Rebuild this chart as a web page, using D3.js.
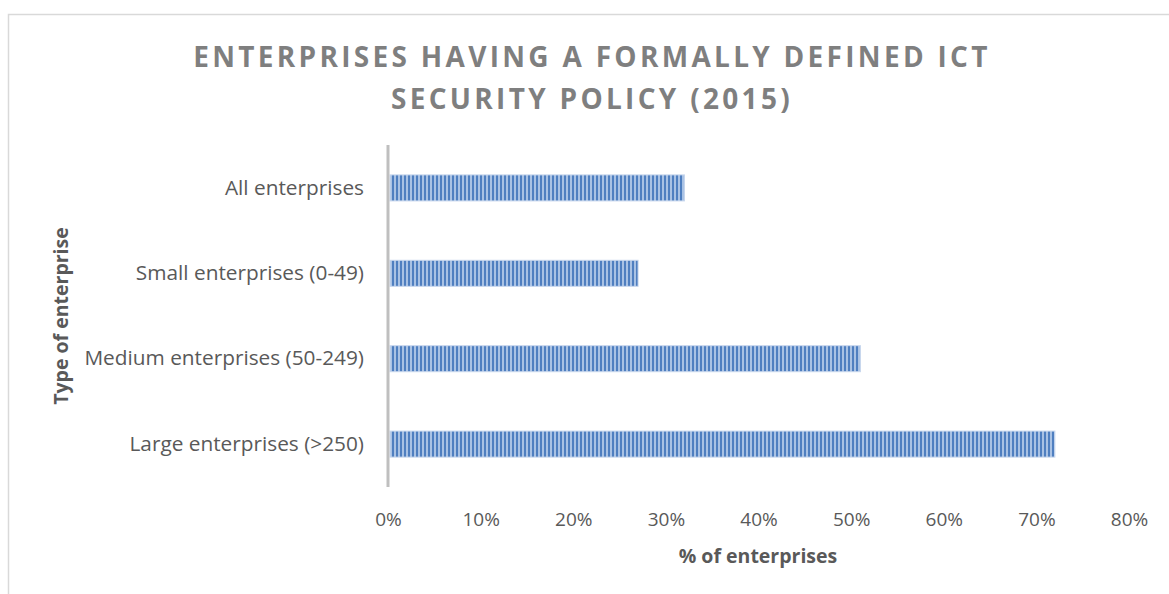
<!DOCTYPE html>
<html><head><meta charset="utf-8">
<script src="https://cdn.jsdelivr.net/npm/d3@7/dist/d3.min.js"></script>
<style>
html,body{margin:0;padding:0;background:#fff;}
svg{display:block;font-family:"Open Sans","Liberation Sans",sans-serif;}
</style></head>
<body><svg id="chart" width="1169" height="594"></svg>
<script>
const categories = ["All enterprises","Small enterprises (0-49)","Medium enterprises (50-249)","Large enterprises (>250)"];
const values = [0.32,0.27,0.51,0.72];
const xTicks = [0,0.1,0.2,0.3,0.4,0.5,0.6,0.7,0.8];
const titleLines = ["ENTERPRISES HAVING A FORMALLY DEFINED ICT","SECURITY POLICY (2015)"];
const xTitle = "% of enterprises";
const yTitle = "Type of enterprise";

const svg = d3.select("#chart");
const W = 1169, H = 594;
const m = {left:388, right:40, top:145, bottom:107};

// border
svg.append("rect").attr("x",8.5).attr("y",14.5).attr("width",W).attr("height",H)
  .attr("fill","#fff").attr("stroke","#d9d9d9").attr("stroke-width",1.5);

const defs = svg.append("defs");
const pat = defs.append("pattern").attr("id","stripes").attr("patternUnits","userSpaceOnUse")
  .attr("width",4).attr("height",10);
pat.append("rect").attr("width",4).attr("height",10).attr("fill","#a9c2e4");
pat.append("rect").attr("width",2).attr("height",10).attr("fill","#4f7fc0");

const x = d3.scaleLinear().domain([0,0.8]).range([m.left, 1129]);
const y = d3.scaleBand().domain(categories).range([m.top, H-m.bottom]).paddingInner(0.695).paddingOuter(0.35);

// title
const t = svg.append("text").attr("text-anchor","middle").attr("fill","#7f7f7f")
  .attr("font-weight","bold").attr("font-size",28).style("letter-spacing","3.3px");
titleLines.forEach((s,i)=>t.append("tspan").attr("x",592).attr("y",67+i*42).text(s));

// bars
svg.append("g").selectAll("rect").data(categories).join("rect")
  .attr("x",x(0)+2).attr("y",d=>y(d))
  .attr("width",(d,i)=>x(values[i])-x(0)-2).attr("height",y.bandwidth())
  .attr("fill","url(#stripes)").attr("stroke","#c9d8ee").attr("stroke-width",1);

// x axis (labels only)
const xa = svg.append("g").attr("transform",`translate(0,${H-m.bottom})`)
  .call(d3.axisBottom(x).tickValues(xTicks).tickFormat(d3.format(".0%")).tickSize(0).tickPadding(26));
xa.select(".domain").remove();
xa.selectAll("text").attr("font-size",19).attr("fill","#595959").attr("font-family","'Open Sans',sans-serif");

// y axis
const ya = svg.append("g").attr("transform",`translate(${m.left},0)`)
  .call(d3.axisLeft(y).tickSize(0).tickPadding(24));
ya.select(".domain").attr("stroke","#bfbfbf").attr("stroke-width",3)
  .attr("d",`M0,${m.top}V${H-m.bottom}`);
ya.selectAll("text").attr("font-size",20.8).attr("fill","#595959").attr("font-family","'Open Sans',sans-serif");

// axis titles
svg.append("text").attr("x",758).attr("y",563).attr("text-anchor","middle")
  .attr("font-weight","bold").attr("font-size",19.5).attr("fill","#595959").text(xTitle);
svg.append("text").attr("transform","translate(68,316) rotate(-90)").attr("text-anchor","middle")
  .attr("font-weight","bold").attr("font-size",19.5).attr("fill","#595959").text(yTitle);
</script></body></html>
